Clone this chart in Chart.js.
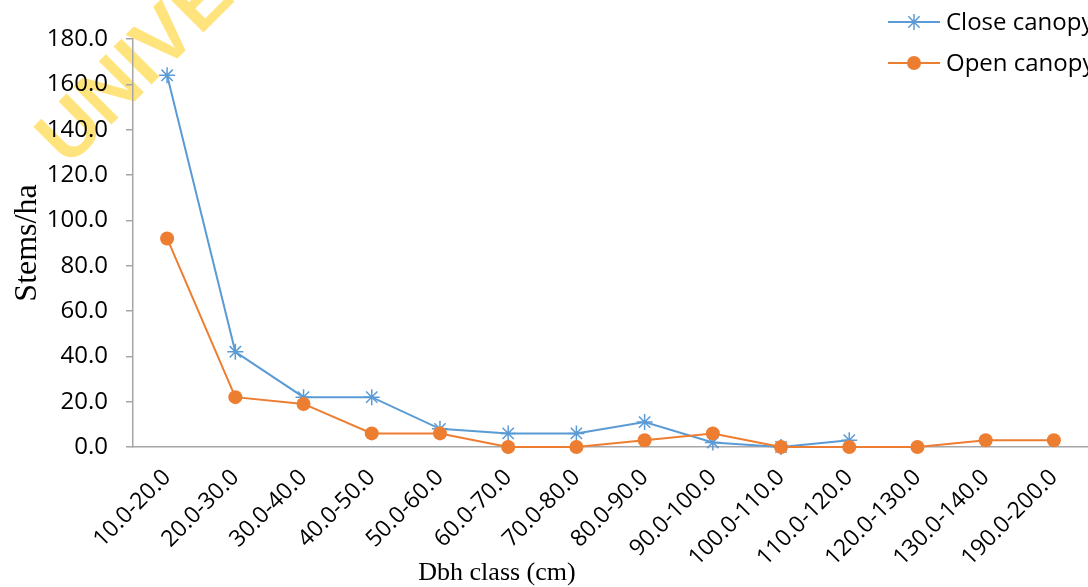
<!DOCTYPE html>
<html>
<head>
<meta charset="utf-8">
<script src="https://cdn.jsdelivr.net/npm/chart.js@4.4.1/dist/chart.umd.min.js"></script>
<style>
  html, body { margin: 0; padding: 0; background: #ffffff; }
  #wrap { width: 1088px; height: 587px; position: relative; }
</style>
</head>
<body>
<div id="wrap"><canvas id="c" width="1088" height="587"></canvas></div>
<script>
const categories = ["10.0-20.0","20.0-30.0","30.0-40.0","40.0-50.0","50.0-60.0","60.0-70.0","70.0-80.0","80.0-90.0","90.0-100.0","100.0-110.0","110.0-120.0","120.0-130.0","130.0-140.0","190.0-200.0"];
const closeCanopy = [164, 42, 22, 22, 8, 6, 6, 11, 2, 0, 3, null, null, null];
const openCanopy  = [92, 22, 19, 6, 6, 0, 0, 3, 6, 0, 0, 0, 3, 3];
const yTicks = [0, 20, 40, 60, 80, 100, 120, 140, 160, 180];
const seriesNames = ["Close canopy", "Open canopy"];
const xTitle = "Dbh class (cm)";
const yTitle = "Stems/ha";
const watermark = "UNIVERSITY";

const BLUE = "#5B9BD5", ORANGE = "#ED7D31";
const SANS = "'Open Sans', 'Noto Sans', sans-serif";
const SERIF = "'Liberation Serif', 'DejaVu Serif', serif";

const decor = {
  id: "decor",
  beforeDraw(chart) {
    const ctx = chart.ctx;
    ctx.save();
    ctx.translate(68, 168);
    ctx.rotate(-Math.PI / 4);
    ctx.font = "bold 78px 'Liberation Sans', sans-serif";
    ctx.fillStyle = "rgba(255, 205, 20, 0.55)";
    ctx.textBaseline = "alphabetic";
    ctx.fillText(watermark, 0, 0);
    ctx.restore();
  },
  afterDraw(chart) {
    const ctx = chart.ctx;
    ctx.save();
    const items = [
      { name: seriesNames[0], color: BLUE, style: "star", y: 22 },
      { name: seriesNames[1], color: ORANGE, style: "circle", y: 63 }
    ];
    items.forEach(it => {
      ctx.strokeStyle = it.color;
      ctx.fillStyle = it.color;
      ctx.lineWidth = 2;
      ctx.beginPath();
      ctx.moveTo(888, it.y);
      ctx.lineTo(940, it.y);
      ctx.stroke();
      if (it.style === "star") {
        ctx.lineWidth = 1.5;
        Chart.helpers.drawPoint(ctx, { pointStyle: "star", radius: 8, borderWidth: 1.5, rotation: 0 }, 914, it.y);
      } else {
        ctx.beginPath();
        ctx.arc(914, it.y, 7, 0, Math.PI * 2);
        ctx.fill();
      }
      ctx.fillStyle = "#000";
      ctx.font = "24px " + SANS;
      ctx.textBaseline = "middle";
      ctx.textAlign = "left";
      ctx.fillText(it.name, 946, it.y + 1);
    });
    ctx.fillStyle = "#000";
    ctx.font = "26px " + SERIF;
    ctx.textAlign = "center";
    ctx.textBaseline = "middle";
    ctx.fillText(xTitle, 497, 573);
    ctx.restore();
  }
};

new Chart(document.getElementById("c"), {
  type: "line",
  data: {
    labels: categories,
    datasets: [
      {
        label: seriesNames[0],
        data: closeCanopy,
        borderColor: BLUE,
        backgroundColor: BLUE,
        borderWidth: 2,
        pointStyle: "star",
        pointRadius: 8,
        pointBorderWidth: 1.5,
        pointBorderColor: BLUE,
        tension: 0,
        spanGaps: false,
        clip: false,
        order: 1
      },
      {
        label: seriesNames[1],
        data: openCanopy,
        borderColor: ORANGE,
        backgroundColor: ORANGE,
        borderWidth: 2,
        pointStyle: "circle",
        pointRadius: 7,
        pointBorderWidth: 0,
        pointBackgroundColor: ORANGE,
        tension: 0,
        clip: false,
        order: 0
      }
    ]
  },
  options: {
    responsive: false,
    animation: false,
    devicePixelRatio: 1,
    layout: { autoPadding: false, padding: { top: 39, right: 0, left: 0, bottom: 0 } },
    plugins: {
      legend: { display: false },
      tooltip: { enabled: false },
      title: { display: false }
    },
    scales: {
      x: {
        type: "category",
        offset: true,
        grid: { display: false, drawTicks: false },
        border: { display: true, color: "#a6a6a6", width: 1.5 },
        ticks: {
          minRotation: 45,
          maxRotation: 45,
          autoSkip: false,
          padding: 17,
          color: "#000",
          font: { family: SANS, size: 23 }
        },
        afterFit(scale) { scale.height = 140; scale.paddingRight = 0; }
      },
      y: {
        min: 0,
        max: 180,
        afterBuildTicks(scale) { scale.ticks = yTicks.map(v => ({ value: v })); },
        grid: {
          display: true,
          drawOnChartArea: false,
          drawTicks: true,
          tickLength: 7,
          tickColor: "#a6a6a6",
          lineWidth: 1.5
        },
        border: { display: true, color: "#a6a6a6", width: 1.5 },
        ticks: {
          padding: 18,
          color: "#000",
          font: { family: SANS, size: 24 },
          callback: v => Number(v).toFixed(1)
        },
        title: {
          display: true,
          text: yTitle,
          color: "#000",
          font: { family: SERIF, size: 32 },
          padding: { top: 8, bottom: 0 }
        },
        afterFit(scale) { scale.width = 133; }
      }
    }
  },
  plugins: [decor]
});
</script>
</body>
</html>
